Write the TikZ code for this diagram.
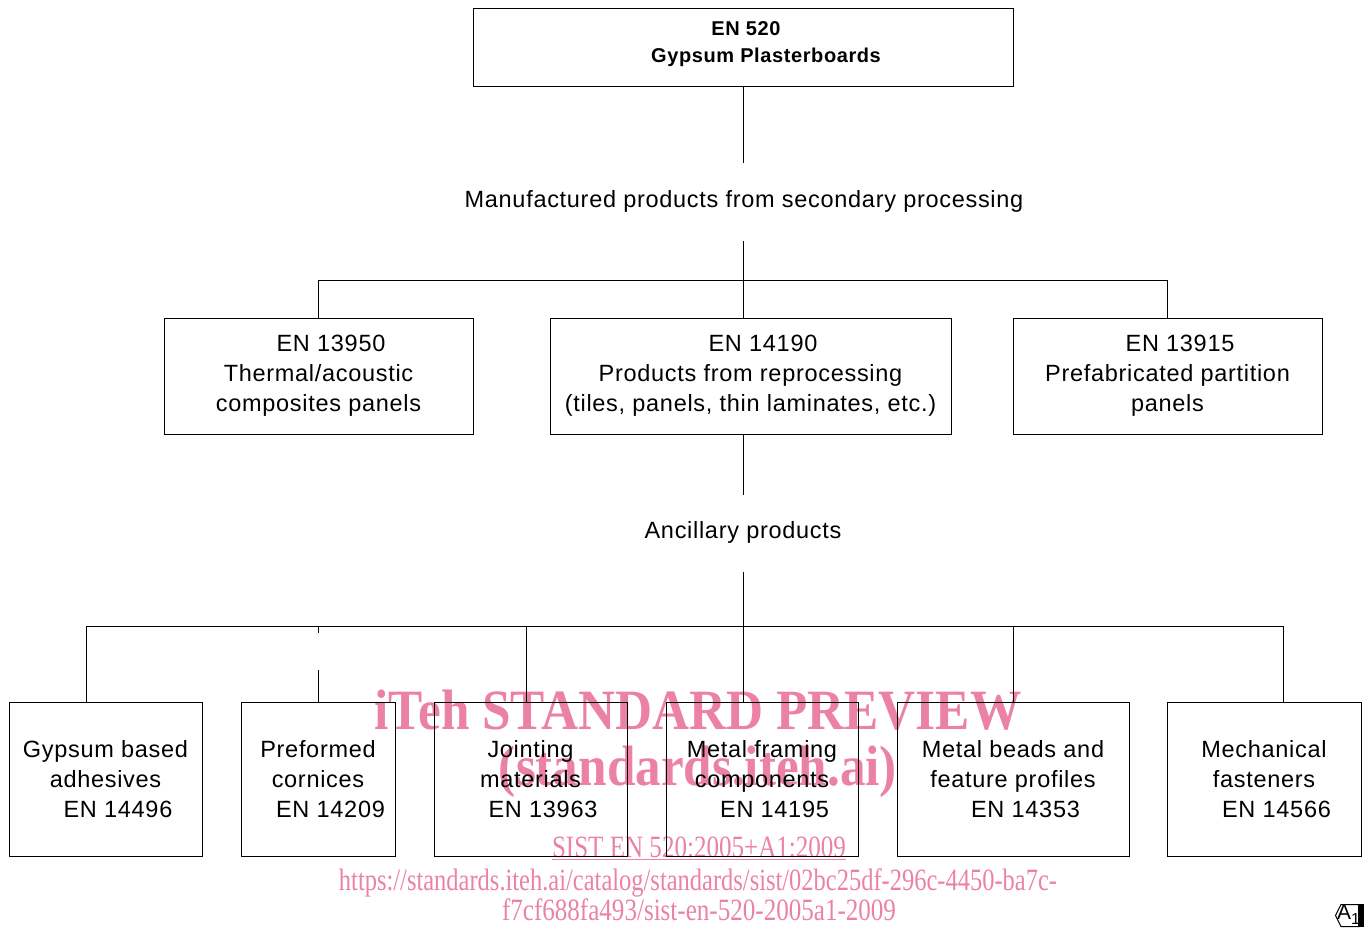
\documentclass[tikz,border=0pt]{standalone}
\usepackage{fontspec}
\setmainfont{Liberation Sans}[LetterSpace=3]
\newfontfamily\wmfont{Liberation Serif}
\definecolor{wmpink}{RGB}{236,130,163}
\newcommand{\enpad}{\hspace*{25pt}}

\begin{document}
\begin{tikzpicture}[x=1pt, y=-1pt,
    box/.style={draw, line width=1pt, inner sep=0pt, align=center,
        font=\fontsize{23.5}{30}\selectfont},
    link/.style={line width=1pt},
    caption/.style={inner sep=0pt, font=\fontsize{23.5}{30}\selectfont},
    wm/.style={text=wmpink, inner sep=0pt, anchor=base}]
        \useasboundingbox (0,0) rectangle (1364,927);

        % Watermark (behind everything)
            \node[wm, font=\wmfont\bfseries\fontsize{57}{57}\selectfont] (wmtitle) at (698,729)
                {\resizebox{647pt}{\height}{iTeh STANDARD PREVIEW}};
            \node[wm, font=\wmfont\bfseries\fontsize{57}{57}\selectfont] (wmsite) at (698,785)
                {\resizebox{398pt}{\height}{(standards.iteh.ai)}};
            \node[wm, font=\wmfont\fontsize{31}{31}\selectfont] (wmsist) at (699,857)
                {\resizebox{294pt}{\height}{\underline{SIST EN 520:2005+A1:2009}}};
            \node[wm, font=\wmfont\fontsize{31}{31}\selectfont] (wmurl) at (698,890)
                {\resizebox{718pt}{\height}{https://standards.iteh.ai/catalog/standards/sist/02bc25df-296c-4450-ba7c-}};
            \node[wm, font=\wmfont\fontsize{31}{31}\selectfont] (wmurlb) at (699,920)
                {\resizebox{394pt}{\height}{f7cf688fa493/sist-en-520-2005a1-2009}};

        % Top standard
            \node[box, minimum width=540, minimum height=78] (top) at (743,47) {};
            \node[inner sep=0pt, align=center, font=\bfseries\fontsize{20}{27}\selectfont] (toplbl) at (743,44.5)
                {\hspace*{6pt}EN 520\\ \hspace*{46pt}Gypsum Plasterboards};

        % Secondary processing
            \node[caption] (mfg) at (744,201) {Manufactured products from secondary processing};
            \node[box, minimum width=309, minimum height=116] (m1) at (318.5,376)
                {\enpad EN 13950\\ Thermal/acoustic\\ composites panels};
            \node[box, minimum width=401, minimum height=116] (m2) at (750.5,376)
                {\enpad EN 14190\\ Products from reprocessing\\ (tiles, panels, thin laminates, etc.)};
            \node[box, minimum width=309, minimum height=116] (m3) at (1167.5,376)
                {\enpad EN 13915\\ Prefabricated partition\\ panels};

            \coordinate (mfgtop) at (743,163);
            \coordinate (mfgbot) at (743,241);
            \draw[link] (top.south) -- (mfgtop);
            \draw[link] (mfgbot) -- (mfgbot |- m2.north);
            \draw[link] (m1.north) -- ++(0,-37) -| (m3.north);

        % Ancillary products
            \node[caption] (anc) at (743,532) {Ancillary products};
            \coordinate (anctop) at (743,495);
            \coordinate (ancbot) at (743,572);
            \draw[link] (m2.south -| mfgbot) -- (anctop);

            \node[box, minimum width=193, minimum height=154] (b1) at (105.5,779)
                {Gypsum based\\ adhesives\\ \enpad EN 14496};
            \node[box, minimum width=154, minimum height=154] (b2) at (318,779)
                {Preformed\\ cornices\\ \enpad EN 14209};
            \node[box, minimum width=193, minimum height=154] (b3) at (530.5,779)
                {Jointing\\ materials\\ \enpad EN 13963};
            \node[box, minimum width=192, minimum height=154] (b4) at (762,779)
                {Metal framing\\ components\\ \enpad EN 14195};
            \node[box, minimum width=232, minimum height=154] (b5) at (1013,779)
                {Metal beads and\\ feature profiles\\ \enpad EN 14353};
            \node[box, minimum width=194, minimum height=154] (b6) at (1264,779)
                {Mechanical\\ fasteners\\ \enpad EN 14566};

            \draw[link] (ancbot) -- (ancbot |- b4.north);
            \draw[link] (86,626) -- (1283,626);
            \foreach \x/\b in {86/b1, 526/b3, 1013/b5, 1283/b6}
                \draw[link] (\x,626) -- (\b.north -| \x,0);
            \draw[link] (318,626) -- (318,633) (318,670) -- (b2.north);

        % Amendment mark
            \draw[line width=1pt] (1360,904.5) -- (1341,904.5) -- (1335.5,915.5) -- (1341,926.5) -- (1360,926.5);
            \fill (1357.5,904) rectangle (1364,927);
            \node[inner sep=0pt, font=\fontsize{21}{21}\selectfont] (amark) at (1348.5,915)
                {A\raisebox{-5pt}{\fontsize{16}{16}\selectfont 1}};

    \end{tikzpicture}
\end{document}
